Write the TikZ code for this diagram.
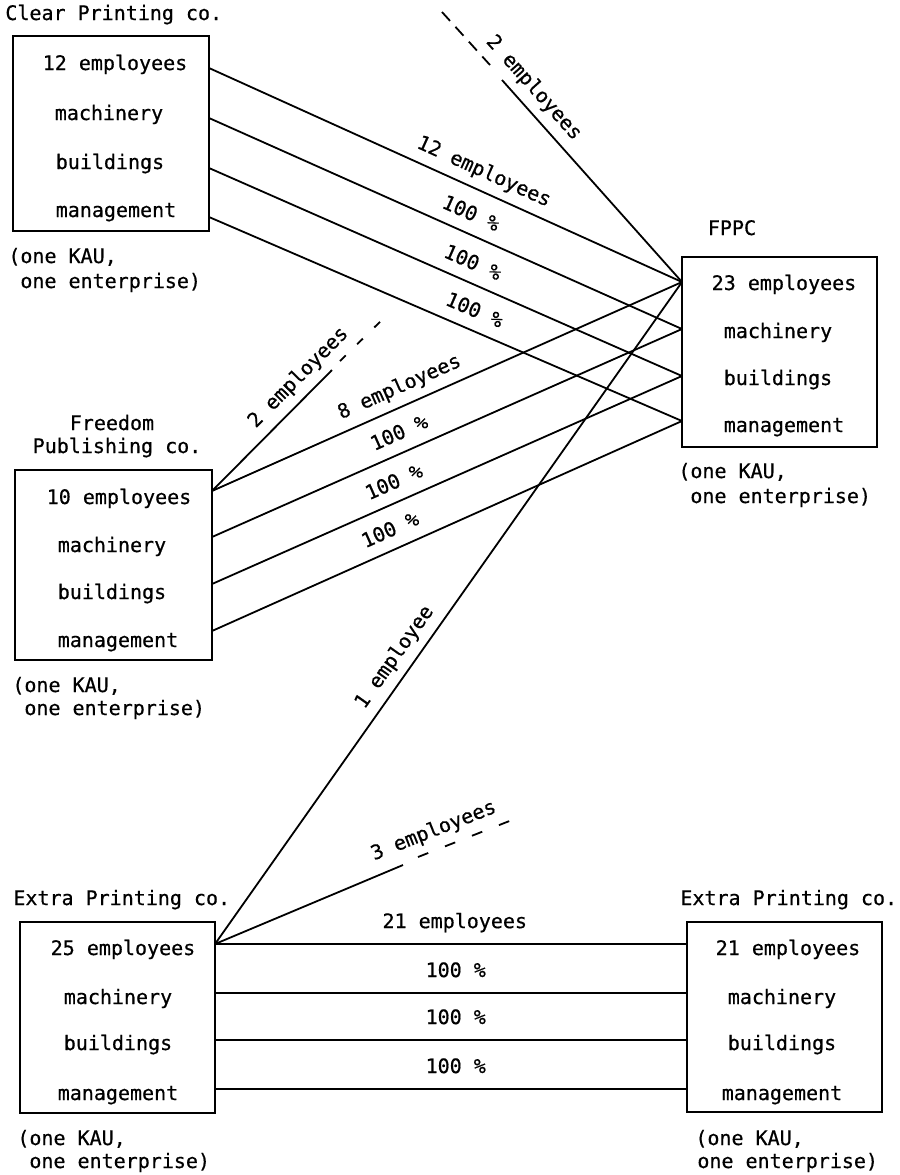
\documentclass[tikz,border=0pt]{standalone}
\usepackage{fontspec}
\newfontfamily\tfont{DejaVu Sans Mono}[FakeBold=0.6]
\begin{document}
\begin{tikzpicture}[x=0.5pt,y=-0.5pt,
  txt/.style={font=\tfont\fontsize{10}{12.5}\selectfont, inner sep=0pt, text height=7pt, text depth=2pt},
  ttl/.style={txt, anchor=west},
  boxn/.style={draw, line width=0.9pt, inner sep=0pt},
  conn/.style={line width=0.9pt},
  dshA/.style={conn, dash pattern=on 6pt off 4pt},
  dshB/.style={conn, dash pattern=on 4pt off 8pt},
  dshC/.style={conn, dash pattern=on 5.5pt off 9pt},
  lbl/.style={font=\tfont\fontsize{10}{12.5}\selectfont, inner sep=1pt, text height=7pt, text depth=2pt, sloped, above=3pt},
  lblh/.style={font=\tfont\fontsize{10}{12.5}\selectfont, inner sep=1pt, text height=7pt, text depth=2pt, above=4.5pt}]
\useasboundingbox (0,0) rectangle (900,1175);

% ---------- Clear Printing co.
\node[ttl] (clrT) at (5,15) {Clear Printing co.};
\node[boxn, minimum width=98pt, minimum height=97.5pt] (clr) at (111,133.5) {};
\node[txt] (clr1) at (115,65) {12 employees};
\node[txt] (clr2) at (109,115) {machinery};
\node[txt] (clr3) at (110,164) {buildings};
\node[txt] (clr4) at (116,212) {management};
\node[ttl] (clrK1) at (8,258) {(one KAU,};
\node[ttl] (clrK2) at (20,283) {one enterprise)};
\coordinate (cp1) at (209,68);
\coordinate (cp2) at (209,118);
\coordinate (cp3) at (209,168);
\coordinate (cp4) at (209,217);

% ---------- FPPC
\node[txt] (fpT) at (732,230) {FPPC};
\node[boxn, minimum width=97.5pt, minimum height=95pt] (fp) at (779.5,352) {};
\node[txt] (fp1t) at (784,285) {23 employees};
\node[txt] (fp2t) at (778,333) {machinery};
\node[txt] (fp3t) at (778,380) {buildings};
\node[txt] (fp4t) at (784,427) {management};
\node[ttl] (fpK1) at (678,473) {(one KAU,};
\node[ttl] (fpK2) at (690,498) {one enterprise)};
\coordinate (fp1) at (682,282);
\coordinate (fp2) at (682,329);
\coordinate (fp3) at (682,376);
\coordinate (fp4) at (682,421);

% ---------- Freedom Publishing co.
\node[txt] (frT1) at (112,425) {Freedom};
\node[txt] (frT2) at (117,448) {Publishing co.};
\node[boxn, minimum width=98.5pt, minimum height=95pt] (fr) at (113.5,565) {};
\node[txt] (fr1t) at (119,499) {10 employees};
\node[txt] (fr2t) at (112,547) {machinery};
\node[txt] (fr3t) at (112,594) {buildings};
\node[txt] (fr4t) at (118,642) {management};
\node[ttl] (frK1) at (12,687) {(one KAU,};
\node[ttl] (frK2) at (24,710) {one enterprise)};
\coordinate (fr1) at (212,491);
\coordinate (fr2) at (212,537);
\coordinate (fr3) at (212,584);
\coordinate (fr4) at (212,631);

% ---------- Extra Printing co. (left)
\node[ttl] (elT) at (13,900) {Extra Printing co.};
\node[boxn, minimum width=97.5pt, minimum height=95.5pt] (el) at (117.5,1017.5) {};
\node[txt] (el1t) at (123,950) {25 employees};
\node[txt] (el2t) at (118,999) {machinery};
\node[txt] (el3t) at (118,1045) {buildings};
\node[txt] (el4t) at (118,1095) {management};
\node[ttl] (elK1) at (17,1140) {(one KAU,};
\node[ttl] (elK2) at (29,1163) {one enterprise)};
\coordinate (el1) at (215,944);
\coordinate (el2) at (215,993);
\coordinate (el3) at (215,1040);
\coordinate (el4) at (215,1089);

% ---------- Extra Printing co. (right)
\node[ttl] (erT) at (680,900) {Extra Printing co.};
\node[boxn, minimum width=97.5pt, minimum height=95pt] (er) at (784.5,1017) {};
\node[txt] (er1t) at (788,950) {21 employees};
\node[txt] (er2t) at (782,999) {machinery};
\node[txt] (er3t) at (782,1045) {buildings};
\node[txt] (er4t) at (782,1095) {management};
\node[ttl] (erK1) at (695,1140) {(one KAU,};
\node[ttl] (erK2) at (697,1163) {one enterprise)};
\coordinate (er1) at (687,944);
\coordinate (er2) at (687,993);
\coordinate (er3) at (687,1040);
\coordinate (er4) at (687,1089);

% free ends
\coordinate (topA) at (442,12);
\coordinate (topB) at (490,65);
\coordinate (topC) at (502,80);
\coordinate (frA) at (332,370);
\coordinate (frB) at (340,361);
\coordinate (frC) at (387,315);
\coordinate (elA) at (403,865);
\coordinate (elB) at (418,857);
\coordinate (elC) at (512,820);

% ---------- connectors Clear -> FPPC
\draw[conn] (cp1) -- node[lbl,pos=0.565]{12 employees} (fp1);
\draw[conn] (cp2) -- node[lbl,pos=0.537]{100 \%} (fp2);
\draw[conn] (cp3) -- node[lbl,pos=0.541]{100 \%} (fp3);
\draw[conn] (cp4) -- node[lbl,pos=0.545]{100 \%} (fp4);

% top 2 employees
\draw[dshA] (topA) -- (topB);
\draw[conn] (topC) -- node[lbl,pos=0.10]{2 employees} (fp1);

% Freedom -> FPPC
\draw[conn] (fr1) -- node[lbl,pos=0.415]{8 employees} (fp1);
\draw[conn] (fr2) -- node[lbl,pos=0.415]{100 \%} (fp2);
\draw[conn] (fr3) -- node[lbl,pos=0.404]{100 \%} (fp3);
\draw[conn] (fr4) -- node[lbl,pos=0.396]{100 \%} (fp4);
\draw[conn] (fr1) -- node[lbl,pos=0.83]{2 employees} (frA);
\draw[dshB] (frB) -- (frC);

% Extra -> FPPC
\draw[conn] (el1) -- node[lbl,pos=0.417]{1 employee} (fp1);
\draw[conn] (el1) -- (elA);
\draw[dshC] (elB) -- node[lbl,pos=0.24]{3 employees} (elC);

% Extra -> Extra
\draw[conn] (el1) -- node[lblh,pos=0.508]{21 employees} (er1);
\draw[conn] (el2) -- node[lblh,pos=0.51]{100 \%} (er2);
\draw[conn] (el3) -- node[lblh,pos=0.51]{100 \%} (er3);
\draw[conn] (el4) -- node[lblh,pos=0.51]{100 \%} (er4);
\end{tikzpicture}
\end{document}
